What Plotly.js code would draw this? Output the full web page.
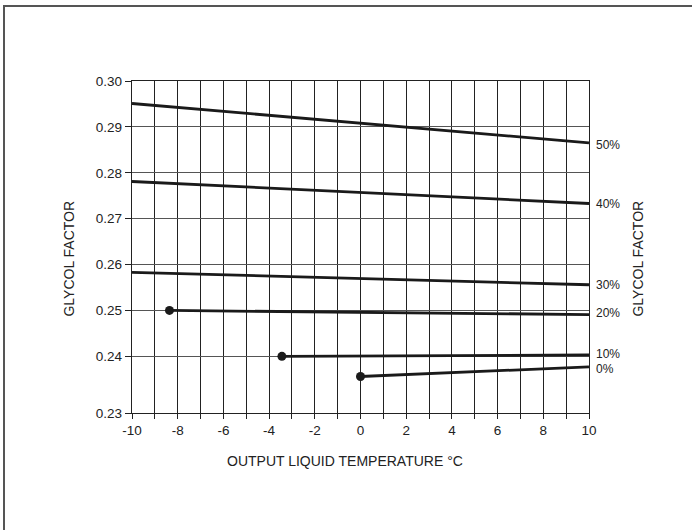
<!DOCTYPE html>
<html>
<head>
<meta charset="utf-8">
<script src="https://cdn.plot.ly/plotly-3.0.1.min.js"></script>
<style>
  html, body { margin: 0; padding: 0; background: #fff; }
  #wrap { position: relative; width: 692px; height: 530px; }
  #chart { position: absolute; left: 0; top: 0; width: 692px; height: 530px; }
  #frame { position: absolute; left: 3px; top: 5px; right: -5px; bottom: -5px;
           border-left: 2px solid #555; border-top: 2px solid #555; pointer-events: none; }
</style>
</head>
<body>
<div id="wrap"><div id="chart"></div><div id="frame"></div></div>
<script>
// Glycol percentage series
const seriesNames = ["50%", "40%", "30%", "20%", "10%", "0%"];
// start / end temperature (°C) of each curve
const temp50 = [-10, 10];
const temp40 = [-10, 10];
const temp30 = [-10, 10];
const temp20 = [-8.36, 10];
const temp10 = [-3.44, 10];
const temp0  = [0, 10];
// glycol factor values
const factor50 = [0.2951, 0.2865];
const factor40 = [0.2781, 0.2733];
const factor30 = [0.2583, 0.2556];
const factor20 = [0.2500, 0.2491];
const factor10 = [0.2400, 0.2403];
const factor0  = [0.2356, 0.2377];
// which series start with a dot
const hasStartDot = [false, false, false, true, true, true];

// y axis: broken scale at the bottom (0.23 sits lower than linear)
const yTickLabels = ["0.23", "0.24", "0.25", "0.26", "0.27", "0.28", "0.29", "0.30"];
const yTickValues = [0.22765, 0.24, 0.25, 0.26, 0.27, 0.28, 0.29, 0.30];
const xTickValues = [-10,-9,-8,-7,-6,-5,-4,-3,-2,-1,0,1,2,3,4,5,6,7,8,9,10];
const xTickLabels = xTickValues.map(v => (v % 2 === 0) ? String(v) : "");

const temps = [temp50, temp40, temp30, temp20, temp10, temp0];
const factors = [factor50, factor40, factor30, factor20, factor10, factor0];
const labelShift = [-2, 0, 0, 2, 1, -2];

const traces = [];
const annotations = [];
const font = "Liberation Sans, Arial, Helvetica, sans-serif";
for (let i = 0; i < seriesNames.length; i++) {
  traces.push({
    x: temps[i], y: factors[i], type: "scatter", mode: "lines",
    line: { color: "#1a1a1a", width: 2.8 }, hoverinfo: "skip", showlegend: false
  });
  if (hasStartDot[i]) {
    traces.push({
      x: [temps[i][0]], y: [factors[i][0]], type: "scatter", mode: "markers",
      marker: { color: "#1a1a1a", size: 9 }, hoverinfo: "skip", showlegend: false
    });
  }
  annotations.push({
    xref: "x", yref: "y", x: temps[i][temps[i].length - 1], y: factors[i][factors[i].length - 1],
    text: seriesNames[i], showarrow: false, xanchor: "left", yanchor: "middle",
    xshift: 5, yshift: labelShift[i], font: { family: font, size: 12, color: "#222" }
  });
}
annotations.push({
  xref: "paper", yref: "paper", x: -0.138, y: 0.465, text: "GLYCOL FACTOR", textangle: -90,
  showarrow: false, xanchor: "center", yanchor: "middle", font: { family: font, size: 14, color: "#222" }
});
annotations.push({
  xref: "paper", yref: "paper", x: 1.107, y: 0.465, text: "GLYCOL FACTOR", textangle: -90,
  showarrow: false, xanchor: "center", yanchor: "middle", font: { family: font, size: 14, color: "#222" }
});
annotations.push({
  xref: "paper", yref: "paper", x: 0.466, y: -0.145, text: "OUTPUT LIQUID TEMPERATURE °C",
  showarrow: false, xanchor: "center", yanchor: "middle", font: { family: font, size: 14, color: "#222" }
});

const layout = {
  width: 692, height: 530,
  margin: { l: 132, r: 103, t: 81, b: 117 },
  paper_bgcolor: "#fff", plot_bgcolor: "#fff",
  showlegend: false,
  font: { family: font, color: "#222" },
  xaxis: {
    range: [-10, 10], tickmode: "array", tickvals: xTickValues, ticktext: xTickLabels,
    ticks: "outside", ticklen: 5, tickcolor: "#222", tickwidth: 1,
    showgrid: true, gridcolor: "#222", gridwidth: 1, zeroline: false,
    showline: true, linecolor: "#222", linewidth: 1.2, mirror: true,
    tickfont: { family: font, size: 13.5, color: "#222" }
  },
  yaxis: {
    range: [0.22765, 0.30], tickmode: "array", tickvals: yTickValues, ticktext: yTickLabels,
    ticks: "outside", ticklen: 6, tickcolor: "#222", tickwidth: 1,
    showgrid: true, gridcolor: "#555", gridwidth: 1, zeroline: false,
    showline: true, linecolor: "#222", linewidth: 1.2, mirror: true,
    tickfont: { family: font, size: 13.5, color: "#222" }
  },
  annotations: annotations
};

Plotly.newPlot("chart", traces, layout, { staticPlot: true, displayModeBar: false });
</script>
</body>
</html>
